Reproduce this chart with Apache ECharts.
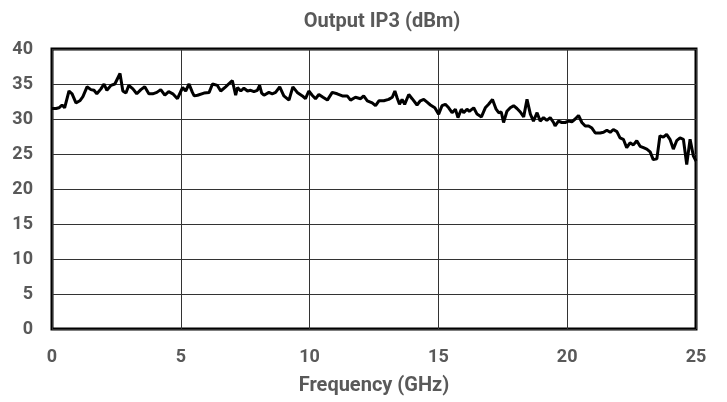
<!DOCTYPE html>
<html>
<head>
<meta charset="utf-8">
<script src="https://cdn.jsdelivr.net/npm/echarts@6/dist/echarts.min.js"></script>
<style>
  html, body { margin: 0; padding: 0; background: #fff; }
  #chart { width: 727px; height: 402px; }
</style>
</head>
<body>
<div id="chart"></div>
<script>
// frequency (GHz) and output IP3 (dBm)
const freqs = [
  0, 0.16, 0.27, 0.39, 0.49, 0.66, 0.78, 0.93, 1.08, 1.2, 1.36, 1.51, 1.63, 1.74, 1.9,
  2.02, 2.13, 2.29, 2.44, 2.64, 2.75, 2.87, 2.98, 3.14, 3.29, 3.45, 3.6, 3.76, 3.91,
  4.07, 4.22, 4.38, 4.53, 4.69, 4.87, 5.07, 5.19, 5.32, 5.45, 5.52, 5.65, 5.71, 5.9,
  6.1, 6.23, 6.42, 6.55, 6.74, 7.0, 7.13, 7.2, 7.33, 7.45, 7.59, 7.71, 7.84, 7.97,
  8.06, 8.14, 8.23, 8.42, 8.55, 8.68, 8.84, 9.0, 9.2, 9.35, 9.52, 9.72, 9.84, 9.97,
  10.1, 10.23, 10.36, 10.52, 10.69, 10.88, 11.07, 11.27, 11.46, 11.59, 11.78, 11.98,
  12.1, 12.24, 12.3, 12.43, 12.56, 12.69, 12.88, 13.07, 13.14, 13.21, 13.31, 13.4,
  13.49, 13.59, 13.69, 13.85, 13.98, 14.17, 14.3, 14.43, 14.56, 14.69, 14.86, 15.01,
  15.14, 15.27, 15.4, 15.53, 15.66, 15.76, 15.89, 15.98, 16.11, 16.2, 16.37, 16.5,
  16.67, 16.82, 16.95, 17.1, 17.24, 17.34, 17.44, 17.53, 17.66, 17.79, 17.92, 18.05,
  18.18, 18.31, 18.44, 18.57, 18.69, 18.83, 18.95, 19.08, 19.21, 19.34, 19.47, 19.53,
  19.66, 19.79, 19.92, 20.05, 20.18, 20.31, 20.44, 20.57, 20.7, 20.83, 20.96, 21.09,
  21.28, 21.41, 21.54, 21.67, 21.79, 21.93, 22.05, 22.18, 22.31, 22.44, 22.57, 22.7,
  22.83, 22.96, 23.09, 23.22, 23.34, 23.48, 23.6, 23.73, 23.86, 23.99, 24.12, 24.25,
  24.38, 24.51, 24.64, 24.77, 24.9, 25.0
];
const ip3 = [
  31.5, 31.5, 31.6, 32.0, 31.6, 34.0, 33.6, 32.3, 32.6, 33.2, 34.6, 34.2, 34.1, 33.6, 34.3,
  35.0, 34.1, 34.8, 35.0, 36.5, 34.0, 33.7, 34.8, 34.3, 33.6, 34.2, 34.6, 33.6, 33.6,
  33.8, 34.2, 33.4, 33.9, 33.6, 32.9, 34.5, 34.0, 35.0, 33.8, 33.3, 33.4, 33.3, 33.7,
  33.8, 35.0, 34.8, 34.0, 34.6, 35.5, 33.4, 34.5, 34.0, 34.4, 34.0, 34.1, 33.9, 34.1,
  34.8, 33.7, 33.4, 33.8, 33.6, 33.8, 34.6, 33.3, 32.7, 34.6, 33.8, 33.3, 32.9, 34.0,
  33.4, 32.9, 33.5, 33.1, 32.7, 33.8, 33.6, 33.3, 33.3, 32.7, 33.1, 32.9,
  33.3, 32.6, 32.7, 32.3, 31.9, 32.6, 32.6, 32.8, 32.7, 33.1, 34.0, 33.0,
  32.1, 32.8, 32.1, 33.5, 32.9, 32.0, 32.6, 32.8, 32.4, 32.0, 31.6, 30.7,
  31.9, 32.1, 31.6, 30.9, 31.4, 30.2, 31.4, 30.9, 31.4, 31.1, 31.6, 30.7,
  30.3, 31.6, 32.1, 32.8, 31.4, 30.9, 31.0, 29.5, 31.1, 31.6, 31.9, 31.5,
  31.0, 30.3, 32.8, 30.7, 29.7, 30.9, 29.7, 30.2, 29.8, 30.2, 29.5, 29.0,
  29.7, 29.5, 29.5, 29.7, 29.6, 30.0, 30.5, 29.5, 29.0, 29.0, 28.7, 28.0,
  28.0, 28.1, 28.4, 28.1, 28.5, 28.2, 27.3, 27.1, 25.9, 26.6, 26.3, 26.9,
  26.1, 25.9, 25.7, 25.3, 24.2, 24.3, 27.6, 27.4, 27.8, 27.1, 25.7, 26.9,
  27.3, 27.1, 23.5, 27.1, 24.7, 24.0
];
const xTicks = [0, 5, 10, 15, 20, 25];
const yTicks = [0, 5, 10, 15, 20, 25, 30, 35, 40];

const chart = echarts.init(document.getElementById("chart"));

const labelFont = {
  fontFamily: "Roboto",
  fontWeight: "bold",
  fontSize: 18,
  color: "#595959"
};

chart.setOption({
  animation: false,
  title: {
    text: "Output IP3 (dBm)",
    left: 377,
    top: 7,
    textAlign: "center",
    textStyle: {
      fontFamily: "Roboto",
      fontWeight: "bold",
      fontSize: 20,
      color: "#595959"
    }
  },
  grid: {
    left: 52,
    right: 31,
    top: 49,
    bottom: 73,
    show: true,
    borderColor: "#000",
    borderWidth: 3
  },
  xAxis: {
    type: "value",
    min: xTicks[0],
    max: xTicks[xTicks.length - 1],
    interval: 5,
    name: "Frequency (GHz)",
    nameLocation: "middle",
    nameGap: 47,
    nameTextStyle: {
      fontFamily: "Roboto",
      fontWeight: "bold",
      fontSize: 20,
      color: "#595959"
    },
    axisLine: { show: false },
    axisTick: { show: false },
    axisLabel: Object.assign({ margin: 19 }, labelFont),
    splitLine: { show: true, lineStyle: { color: "#333", width: 1 } }
  },
  yAxis: {
    type: "value",
    min: yTicks[0],
    max: yTicks[yTicks.length - 1],
    interval: 5,
    axisLine: { show: false },
    axisTick: { show: false },
    axisLabel: Object.assign({ margin: 19 }, labelFont),
    splitLine: { show: true, lineStyle: { color: "#333", width: 1 } }
  },
  series: [
    {
      type: "line",
      data: freqs.map((f, i) => [f, ip3[i]]),
      showSymbol: false,
      lineStyle: { color: "#000", width: 3 },
      z: 3
    }
  ]
});
</script>
</body>
</html>
